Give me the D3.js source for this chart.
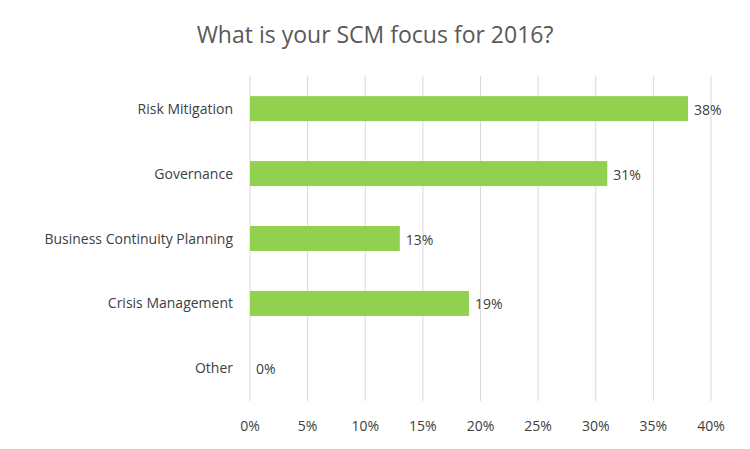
<!DOCTYPE html>
<html>
<head>
<meta charset="UTF-8">
<script src="https://d3js.org/d3.v7.min.js"></script>
<style>
  body { margin: 0; background: #fff; }
  text { font-family: "Open Sans", "Liberation Sans", sans-serif; fill: #404040; }
</style>
</head>
<body>
<svg width="750" height="449"></svg>
<script>
var categories = ["Risk Mitigation", "Governance", "Business Continuity Planning", "Crisis Management", "Other"];
var values = [38, 31, 13, 19, 0];
var ticks = [0, 5, 10, 15, 20, 25, 30, 35, 40];

var svg = d3.select("svg");
var x = d3.scaleLinear().domain([0, 40]).range([250, 711]);
var y = d3.scaleBand().domain(categories).range([76, 401]).paddingInner(0.615).paddingOuter(0.31);

// title
svg.append("text")
    .attr("x", 375).attr("y", 43)
    .attr("text-anchor", "middle")
    .style("font-size", "23px")
    .style("fill", "#595959")
    .text("What is your SCM focus for 2016?");

// gridlines
svg.selectAll(".grid").data(ticks).enter().append("line")
    .attr("x1", d => x(d)).attr("x2", d => x(d))
    .attr("y1", 76).attr("y2", 401)
    .attr("stroke", "#d9d9d9").attr("stroke-width", 1);

// tick labels
svg.selectAll(".tick").data(ticks).enter().append("text")
    .attr("x", d => x(d)).attr("y", 431)
    .attr("text-anchor", "middle")
    .style("font-size", "14px")
    .text(d => d + "%");

// bars
svg.selectAll(".bar").data(categories).enter().append("rect")
    .attr("x", x(0))
    .attr("y", d => y(d))
    .attr("width", (d, i) => x(values[i]) - x(0))
    .attr("height", y.bandwidth())
    .attr("fill", "#92d050");

// category labels
svg.selectAll(".cat").data(categories).enter().append("text")
    .attr("x", 233)
    .attr("y", d => y(d) + y.bandwidth() / 2 + 5)
    .attr("text-anchor", "end")
    .style("font-size", "14px")
    .text(d => d);

// value labels
svg.selectAll(".val").data(categories).enter().append("text")
    .attr("x", (d, i) => x(values[i]) + 6)
    .attr("y", d => y(d) + y.bandwidth() / 2 + 6)
    .style("font-size", "14px")
    .text((d, i) => values[i] + "%");
</script>
</body>
</html>
